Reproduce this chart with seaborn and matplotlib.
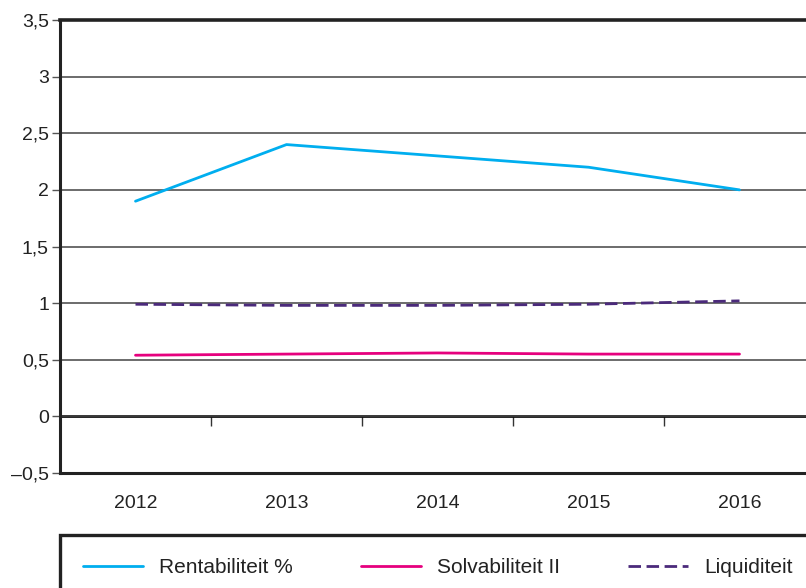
import matplotlib
matplotlib.use("Agg")
import matplotlib.pyplot as plt
from matplotlib.ticker import FuncFormatter, FixedLocator
import seaborn as sns
import pandas as pd

# data
jaren = ['2012', '2013', '2014', '2015', '2016']
rentabiliteit = [1.9, 2.4, 2.3, 2.2, 2.0]
solvabiliteit = [0.54, 0.55, 0.56, 0.55, 0.55]
liquiditeit = [0.99, 0.98, 0.98, 0.99, 1.02]
reeksen = ['Rentabiliteit %', 'Solvabiliteit II', 'Liquiditeit']
kleuren = ['#00aeef', '#e6007e', '#4b2a7b']

df = pd.DataFrame({
    'pos': list(range(len(jaren))) * 3,
    'waarde': rentabiliteit + solvabiliteit + liquiditeit,
    'reeks': [r for r in reeksen for _ in jaren],
})

sns.set_style("white")
plt.rcParams['font.family'] = ['Liberation Sans', 'DejaVu Sans']

fig = plt.figure(figsize=(8.06, 5.88), dpi=100)
ax = fig.add_axes([60 / 806, 1 - 473 / 588, 755 / 806, 453 / 588])

sns.lineplot(data=df, x='pos', y='waarde', hue='reeks', style='reeks',
             hue_order=reeksen, style_order=reeksen,
             palette=dict(zip(reeksen, kleuren)),
             dashes={'Rentabiliteit %': '', 'Solvabiliteit II': '', 'Liquiditeit': (4.5, 2.0)},
             linewidth=2.0, ax=ax, zorder=3)

ax.set_xlim(-0.5, len(jaren) - 0.5)
ax.set_ylim(-0.5, 3.5)
ax.set_yticks([-0.5, 0, 0.5, 1, 1.5, 2, 2.5, 3, 3.5])
ax.yaxis.set_major_formatter(FuncFormatter(
    lambda v, p: (f'{v:g}').replace('.', ',').replace('-', '\u2013')))
ax.set_xticks(range(len(jaren)))
ax.set_xticklabels(jaren)
ax.tick_params(axis='x', length=0, pad=16, labelsize=14, colors='#222')
ax.tick_params(axis='y', length=6, width=1, direction='out', color='#555',
               pad=2, labelsize=14, labelcolor='#222', left=True)
ax.set_xlabel('')
ax.set_ylabel('')

ax.grid(axis='y', color='#444', linewidth=1.1)
ax.grid(axis='x', visible=False)
for s in ['top', 'left', 'bottom']:
    ax.spines[s].set_color('#222')
    ax.spines[s].set_linewidth(2.2)
ax.spines['top'].set_linewidth(2.6)
ax.spines['right'].set_visible(False)

# nul-lijn met tussenstreepjes
nul = ax.secondary_xaxis(0.125)
nul.xaxis.set_major_locator(FixedLocator([0.5, 1.5, 2.5, 3.5]))
nul.tick_params(axis='x', length=7, width=1, direction='out', color='#333',
                labelbottom=False)
nul.spines['bottom'].set_color('#111')
nul.spines['bottom'].set_linewidth(2.0)

handles, labels = ax.get_legend_handles_labels()
ax.get_legend().remove()
leg = fig.legend(handles, labels, loc='upper left',
                 bbox_to_anchor=(60 / 806, 0, 0.937, 1 - 535 / 588),
                 mode='expand', ncol=3, frameon=True, fancybox=False,
                 edgecolor='#222', framealpha=1, borderpad=1.1,
                 borderaxespad=0, handlelength=2.9, handletextpad=0.75,
                 fontsize=15)
leg.get_frame().set_linewidth(2.4)
for t in leg.get_texts():
    t.set_color('#222')

fig.savefig('out.png', dpi=100)
